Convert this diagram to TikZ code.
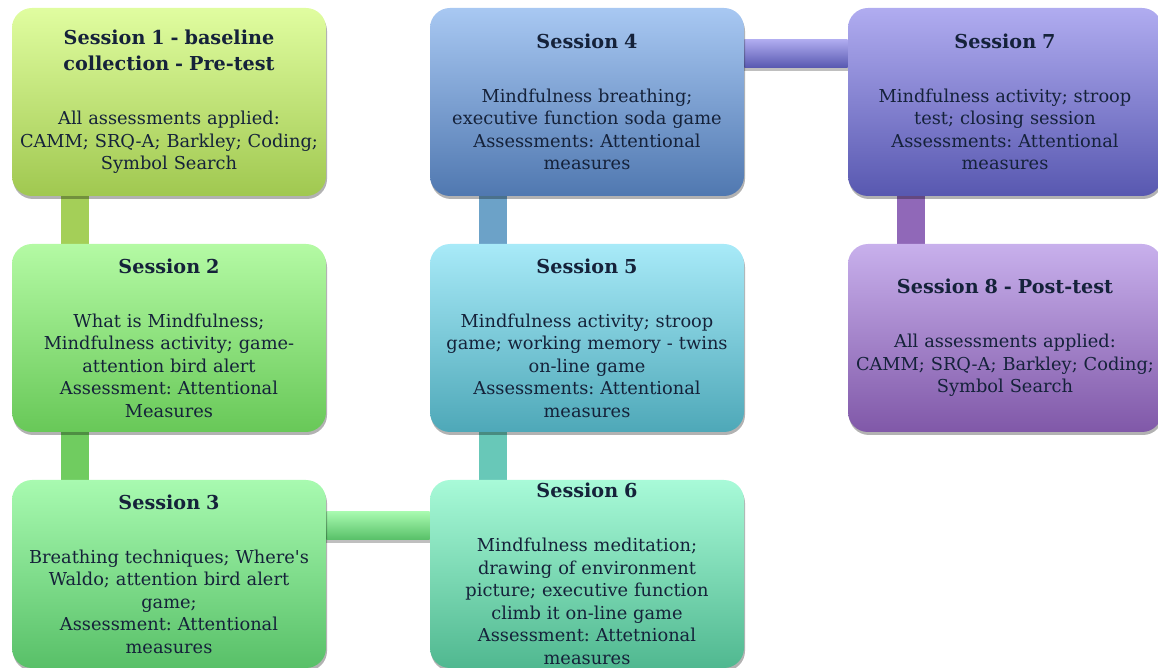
\documentclass[tikz,border=0pt]{standalone}
\usepackage{fontspec}
\setmainfont{DejaVu Serif}
\usetikzlibrary{shadows,backgrounds}

\definecolor{ink}{HTML}{15223A}
\definecolor{sOneTop}{HTML}{E0FDA0}\definecolor{sOneBot}{HTML}{A0C850}
\definecolor{sTwoTop}{HTML}{B4FAA4}\definecolor{sTwoBot}{HTML}{68C858}
\definecolor{sThreeTop}{HTML}{A8FAB0}\definecolor{sThreeBot}{HTML}{58C068}
\definecolor{sFourTop}{HTML}{A8C8F2}\definecolor{sFourBot}{HTML}{5078B0}
\definecolor{sFiveTop}{HTML}{A8EAF8}\definecolor{sFiveBot}{HTML}{4EA8B8}
\definecolor{sSixTop}{HTML}{A8FAD8}\definecolor{sSixBot}{HTML}{50B890}
\definecolor{sSevenTop}{HTML}{B0ACF0}\definecolor{sSevenBot}{HTML}{5858B0}
\definecolor{sEightTop}{HTML}{C8B0EC}\definecolor{sEightBot}{HTML}{8058A8}
\definecolor{barOne}{HTML}{A4CF58}
\definecolor{barTwo}{HTML}{70CC60}
\definecolor{barFive}{HTML}{68C8B8}
\definecolor{barFour}{HTML}{6CA2C8}
\definecolor{barSeven}{HTML}{9068B8}

\tikzset{
	session/.style={rounded corners=10pt, minimum width=157pt, minimum height=94pt,
		text width=155pt, inner sep=1pt, align=center, text=ink,
		font=\fontsize{8.9}{11.25}\selectfont\frenchspacing,
		drop shadow={shadow xshift=0.5pt, shadow yshift=-1.5pt, opacity=0.3, fill=black}},
	bar/.style={drop shadow={shadow xshift=0pt, shadow yshift=-1.5pt, opacity=0.25, fill=black}},
}
\newcommand{\sesshead}[1]{{\fontsize{9.6}{13}\selectfont\bfseries #1}}
\newcommand{\straightq}{\XeTeXglyph\XeTeXcharglyph"0027\relax}

\begin{document}
\begin{tikzpicture}[x=0.5pt, y=-0.5pt]
	\useasboundingbox (0,0) rectangle (1158,668);

	% session boxes
	\node[session, top color=sOneTop, bottom color=sOneBot] (s1) at (169,102)
		{\sesshead{Session 1 - baseline}\\[1.75pt]\sesshead{collection - Pre-test}\\[15.75pt]
		All assessments applied:\\CAMM; SRQ-A; Barkley; Coding;\\Symbol Search};
	\node[session, top color=sTwoTop, bottom color=sTwoBot] (s2) at (169,338)
		{\sesshead{Session 2}\\[15.75pt]
		What is Mindfulness;\\Mindfulness activity; game-\\attention bird alert\\Assessment: Attentional\\Measures};
	\node[session, top color=sThreeTop, bottom color=sThreeBot] (s3) at (169,574)
		{\sesshead{Session 3}\\[15.75pt]
		Breathing techniques; Where\straightq s\\Waldo; attention bird alert\\game;\\Assessment: Attentional\\measures};
	\node[session, top color=sFourTop, bottom color=sFourBot] (s4) at (587,102)
		{\sesshead{Session 4}\\[15.75pt]
		Mindfulness breathing;\\executive function soda game\\Assessments: Attentional\\measures};
	\node[session, top color=sFiveTop, bottom color=sFiveBot] (s5) at (587,338)
		{\sesshead{Session 5}\\[15.75pt]
		Mindfulness activity; stroop\\game; working memory - twins\\on-line game\\Assessments: Attentional\\measures};
	\node[session, top color=sSixTop, bottom color=sSixBot] (s6) at (587,574)
		{\sesshead{Session 6}\\[15.75pt]
		Mindfulness meditation;\\drawing of environment\\picture; executive function\\climb it on-line game\\Assessment: Attetnional\\measures};
	\node[session, top color=sSevenTop, bottom color=sSevenBot] (s7) at (1005,102)
		{\sesshead{Session 7}\\[15.75pt]
		Mindfulness activity; stroop\\test; closing session\\Assessments: Attentional\\measures};
	\node[session, top color=sEightTop, bottom color=sEightBot] (s8) at (1005,338)
		{\sesshead{Session 8 - Post-test}\\[15.75pt]
		All assessments applied:\\CAMM; SRQ-A; Barkley; Coding;\\Symbol Search};

	% connecting bars
	\begin{scope}[on background layer]
		\fill[bar, fill=barOne]
			([xshift=24.5pt]s1.south west) rectangle ([xshift=38.5pt]s2.north west);
		\fill[bar, fill=barTwo]
			([xshift=24.5pt]s2.south west) rectangle ([xshift=38.5pt]s3.north west);
		\shade[bar, top color=sThreeTop, bottom color=sThreeBot]
			([yshift=-16pt]s3.north east) rectangle ([yshift=-30pt]s6.north west);
		\fill[bar, fill=barFive]
			([xshift=24.5pt]s5.south west) rectangle ([xshift=38.5pt]s6.north west);
		\fill[bar, fill=barFour]
			([xshift=24.5pt]s4.south west) rectangle ([xshift=38.5pt]s5.north west);
		\shade[bar, top color=sSevenTop, bottom color=sSevenBot]
			([yshift=-16pt]s4.north east) rectangle ([yshift=-30pt]s7.north west);
		\fill[bar, fill=barSeven]
			([xshift=24.5pt]s7.south west) rectangle ([xshift=38.5pt]s8.north west);
	\end{scope}
\end{tikzpicture}
\end{document}
